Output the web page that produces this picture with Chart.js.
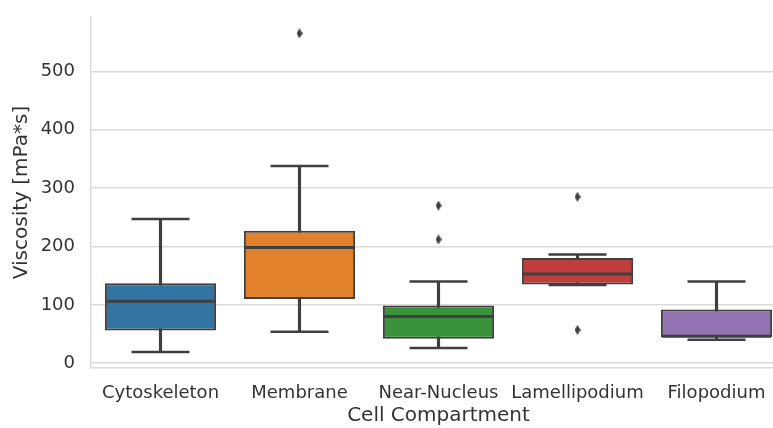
<!DOCTYPE html>
<html>
<head>
<meta charset="utf-8">
<script src="https://cdn.jsdelivr.net/npm/chart.js@4"></script>
<style>
  html, body { margin: 0; padding: 0; background: #ffffff; overflow: hidden; }
  #wrap { width: 786px; height: 428px; }
</style>
</head>
<body>
<div id="wrap"><canvas id="chart"></canvas></div>
<script>
// Viscosity per cell compartment (mPa*s): five-number summaries plus outliers
const categories = ['Cytoskeleton', 'Membrane', 'Near-Nucleus', 'Lamellipodium', 'Filopodium'];
const whiskerLow  = [19, 54, 26, 134, 40];
const q1          = [56, 110, 42, 135, 45];
const median      = [106, 198, 80, 153, 46];
const q3          = [137, 227, 99, 180, 92];
const whiskerHigh = [247, 338, 140, 186, 140];
const outlierCategory = ['Membrane', 'Near-Nucleus', 'Near-Nucleus', 'Lamellipodium', 'Lamellipodium'];
const outlierValue    = [565, 270, 212, 285, 57];
const yTicks = [0, 100, 200, 300, 400, 500];

const boxColors = ['#3274a1', '#e1812c', '#3a923a', '#c03d3e', '#9372b2'];
const lineColor = '#3f3f3f';
const gridColor = '#dadada';
const textColor = '#333333';
const fontFamily = '"DejaVu Sans", "Liberation Sans", Arial, sans-serif';

// thin diamond marker for outliers
function thinDiamond() {
  const c = document.createElement('canvas');
  c.width = 6; c.height = 10;
  const g = c.getContext('2d');
  g.fillStyle = lineColor;
  g.beginPath();
  g.moveTo(3, 0); g.lineTo(6, 5); g.lineTo(3, 10); g.lineTo(0, 5);
  g.closePath();
  g.fill();
  return c;
}

const tickLine = (values, radius, width, order) => ({
  type: 'line',
  data: values,
  showLine: false,
  pointStyle: 'line',
  pointRadius: radius,
  pointHoverRadius: radius,
  pointBorderWidth: width,
  pointHoverBorderWidth: width,
  pointBorderColor: lineColor,
  pointBackgroundColor: lineColor,
  order: order
});

// keep the plot area edges fixed: no extra room for half-height tick labels
const noLabelPadding = s => {
  s.paddingTop = 0; s.paddingBottom = 0; s.paddingLeft = 0; s.paddingRight = 0;
};

new Chart(document.getElementById('chart'), {
  data: {
    labels: categories,
    datasets: [
      {
        // whisker stems
        type: 'bar',
        data: categories.map((c, i) => [whiskerLow[i], whiskerHigh[i]]),
        backgroundColor: lineColor,
        borderWidth: 0,
        barThickness: 2.5,
        grouped: false,
        order: 5
      },
      {
        // interquartile boxes
        type: 'bar',
        data: categories.map((c, i) => [q1[i], q3[i]]),
        backgroundColor: boxColors,
        borderColor: lineColor,
        borderWidth: 2,
        borderSkipped: false,
        categoryPercentage: 0.8,
        barPercentage: 1,
        grouped: false,
        order: 4
      },
      tickLine(whiskerHigh, 29, 2.5, 3),
      tickLine(whiskerLow, 29, 2.5, 3),
      tickLine(median, 54.5, 3, 2),
      {
        // outliers
        type: 'line',
        data: outlierCategory.map((c, i) => ({ x: c, y: outlierValue[i] })),
        showLine: false,
        pointStyle: thinDiamond(),
        pointRadius: 5,
        order: 1
      }
    ]
  },
  options: {
    responsive: true,
    maintainAspectRatio: false,
    animation: false,
    events: [],
    layout: { autoPadding: false, padding: { top: 17, left: 0, right: 0, bottom: 0 } },
    plugins: { legend: { display: false }, tooltip: { enabled: false } },
    scales: {
      x: {
        type: 'category',
        offset: true,
        grid: { display: false, drawTicks: false },
        border: { display: true, color: gridColor, width: 1.5 },
        afterFit: s => { s.height = 60; noLabelPadding(s); },
        ticks: {
          autoSkip: false, maxRotation: 0, minRotation: 0,
          padding: 15, color: textColor,
          font: { family: fontFamily, size: 18 }
        },
        title: {
          display: true, text: 'Cell Compartment', color: textColor,
          font: { family: fontFamily, size: 20 },
          padding: { top: 0, bottom: 0 }
        }
      },
      y: {
        type: 'linear',
        min: -8.2,
        max: 593,
        afterBuildTicks: s => { s.ticks = yTicks.map(v => ({ value: v })); },
        afterFit: s => { s.width = 91; noLabelPadding(s); },
        grid: { color: gridColor, lineWidth: 1.5, drawTicks: false },
        border: { display: true, color: gridColor, width: 1.5 },
        ticks: {
          padding: 16, color: textColor,
          font: { family: fontFamily, size: 18 }
        },
        title: {
          display: true, text: 'Viscosity [mPa*s]', color: textColor,
          font: { family: fontFamily, size: 20 },
          padding: { top: 10, bottom: 0 }
        }
      }
    }
  }
});
</script>
</body>
</html>
